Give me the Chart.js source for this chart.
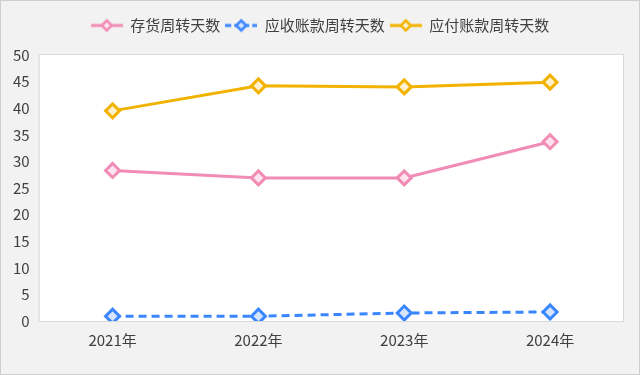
<!DOCTYPE html>
<html>
<head>
<meta charset="utf-8">
<script src="https://cdn.jsdelivr.net/npm/chart.js@4"></script>
<style>
  html, body { margin: 0; padding: 0; background: #f2f2f2; }
  .wrap { width: 638px; height: 373px; border: 1px solid #cfcfcf; background: #f2f2f2; }
</style>
</head>
<body>
<div class="wrap"><canvas id="myChart" width="638" height="373"></canvas></div>
<script>
const years = ['2021年', '2022年', '2023年', '2024年'];
const inventoryDays = [28.3, 26.9, 26.9, 33.7];
const receivableDays = [0.9, 0.9, 1.5, 1.7];
const payableDays = [39.5, 44.2, 44.0, 44.9];
const yTicks = [0, 5, 10, 15, 20, 25, 30, 35, 40, 45, 50];

const fontFamily = '"Noto Sans CJK SC", "Noto Sans", sans-serif';

// little line + diamond icon for legend
function legendIcon(color, fill, dashed) {
  const c = document.createElement('canvas');
  c.width = 32; c.height = 16;
  const ctx = c.getContext('2d');
  ctx.strokeStyle = color;
  ctx.lineWidth = 3;
  if (dashed) ctx.setLineDash([6, 3]);
  ctx.beginPath();
  ctx.moveTo(0, 8); ctx.lineTo(32, 8);
  ctx.stroke();
  ctx.setLineDash([]);
  ctx.beginPath();
  ctx.moveTo(16, 3); ctx.lineTo(21, 8); ctx.lineTo(16, 13); ctx.lineTo(11, 8); ctx.closePath();
  ctx.fillStyle = '#ffffff';
  ctx.fill();
  ctx.fillStyle = fill;
  ctx.fill();
  ctx.lineWidth = 2.5;
  ctx.stroke();
  return c;
}

const pink = '#f08cb5', pinkFill = 'rgba(253,228,238,1)';
const blue = '#3a86ff', blueFill = 'rgba(214,228,253,1)';
const gold = '#f2b300', goldFill = 'rgba(253,241,205,1)';

const plotBg = {
  id: 'plotBg',
  beforeDraw(chart) {
    const { ctx, chartArea: a } = chart;
    ctx.save();
    ctx.fillStyle = '#ffffff';
    ctx.fillRect(a.left, a.top, a.right - a.left, a.bottom - a.top);
    ctx.strokeStyle = '#d9d9d9';
    ctx.lineWidth = 1;
    ctx.strokeRect(a.left - 0.5, a.top - 0.5, a.right - a.left + 1, a.bottom - a.top + 1);
    ctx.restore();
  }
};

// push plot down a bit under the legend, and nudge legend to the right
const legendGap = {
  id: 'legendGap',
  beforeInit(chart) {
    const fit = chart.legend.fit;
    chart.legend.fit = function () {
      fit.bind(chart.legend)();
      this.height += 12;
    };
  },
  afterLayout(chart) {
    chart.legend.left += 7;
    chart.legend.right += 7;
  }
};

function series(label, data, color, fill, dashed) {
  return {
    label: label,
    data: data,
    borderColor: color,
    backgroundColor: fill,
    borderWidth: 3,
    borderDash: dashed ? [8, 5] : [],
    pointStyle: 'rectRot',
    pointRadius: 7,
    pointBorderWidth: 3,
    pointBackgroundColor: fill,
    pointBorderColor: color,
    tension: 0,
    icon: legendIcon(color, fill, dashed)
  };
}

new Chart('myChart', {
  type: 'line',
  data: {
    labels: years,
    datasets: [
      series('存货周转天数', inventoryDays, pink, pinkFill, false),
      series('应收账款周转天数', receivableDays, blue, blueFill, true),
      series('应付账款周转天数', payableDays, gold, goldFill, false)
    ]
  },
  options: {
    responsive: false,
    animation: false,
    layout: { padding: { left: 2, right: 16, top: 12, bottom: 15 } },
    plugins: {
      legend: {
        position: 'top',
        labels: {
          usePointStyle: true,
          pointStyleWidth: 32,
          padding: 5,
          color: '#404040',
          font: { family: fontFamily, size: 15 },
          generateLabels(chart) {
            return chart.data.datasets.map((ds, i) => ({
              text: ds.label,
              pointStyle: ds.icon,
              fillStyle: ds.backgroundColor,
              strokeStyle: ds.borderColor,
              lineWidth: 0,
              fontColor: '#404040',
              hidden: false,
              datasetIndex: i
            }));
          }
        }
      },
      tooltip: { enabled: false }
    },
    scales: {
      x: {
        offset: true,
        grid: { display: false, drawTicks: false },
        border: { display: false },
        ticks: { color: '#404040', font: { family: fontFamily, size: 15 }, padding: 10 }
      },
      y: {
        min: 0,
        max: 50,
        afterBuildTicks(axis) { axis.ticks = yTicks.map(v => ({ value: v })); },
        grid: { display: false, drawTicks: false },
        border: { display: false },
        ticks: { color: '#404040', font: { family: fontFamily, size: 15 }, padding: 10 }
      }
    }
  },
  plugins: [plotBg, legendGap]
});
</script>
</body>
</html>
